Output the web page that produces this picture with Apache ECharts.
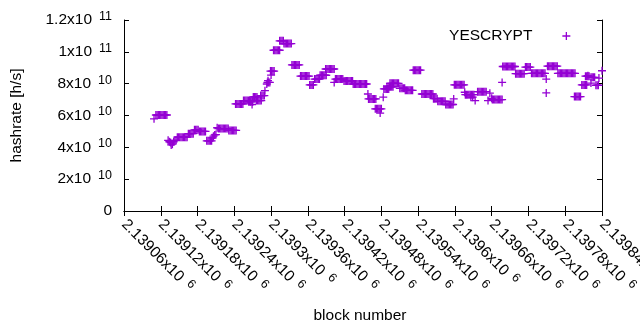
<!DOCTYPE html>
<html>
<head>
<meta charset="utf-8">
<script src="https://cdn.jsdelivr.net/npm/echarts@6/dist/echarts.min.js"></script>
<style>
html,body{margin:0;padding:0;background:#fff;}
#chart{width:640px;height:330px;}
</style>
</head>
<body>
<div id="chart"></div>
<script>
// ---- data (block number, hashrate in units of 1e10 h/s) ----
const seriesName = 'YESCRYPT';
const hashrateUnit = 1e10;
const samples = [
[2139109,5.79],
[2139112,6.03],[2139114,6.03],[2139116,6.03],[2139118,6.03],[2139120,6.03],[2139122,6.03],[2139124,6.03],[2139126,6.03],[2139128,6.03],[2139130,6.03],
[2139132,4.44],[2139134,4.35],[2139136,4.3],[2139137,4.15],[2139139,4.2],[2139141,4.35],
[2139143,4.44],[2139145,4.44],
[2139147,4.64],[2139149,4.64],[2139151,4.64],[2139153,4.64],[2139155,4.64],[2139157,4.64],[2139159,4.64],[2139161,4.64],[2139163,4.64],
[2139165,4.86],[2139167,4.86],[2139169,4.86],[2139171,4.86],[2139173,4.86],
[2139175,5.1],[2139177,5.1],[2139179,5.1],[2139181,5.1],
[2139183,5.0],[2139185,5.0],[2139187,5.0],[2139189,5.0],[2139191,5.0],[2139193,5.0],
[2139195,4.41],[2139197,4.41],[2139199,4.41],[2139201,4.41],[2139203,4.41],
[2139204,4.6],[2139206,4.7],[2139208,4.78],[2139210,4.8],
[2139212,5.23],[2139214,5.18],[2139216,5.18],[2139218,5.18],[2139220,5.18],[2139222,5.18],[2139224,5.18],[2139226,5.18],[2139228,5.18],[2139230,5.18],
[2139231,5.06],[2139233,5.06],[2139235,5.06],[2139237,5.06],[2139239,5.06],[2139241,5.06],[2139243,5.06],
[2139242,6.73],[2139244,6.73],[2139246,6.73],[2139248,6.73],[2139250,6.73],[2139252,6.73],[2139254,6.73],
[2139255,6.94],[2139257,6.94],[2139259,6.94],[2139261,6.94],[2139263,6.94],[2139265,6.94],[2139267,6.94],[2139269,6.94],
[2139269,6.69],[2139264,6.85],[2139267,6.85],[2139270,6.85],
[2139271,7.17],[2139273,7.17],[2139275,7.17],[2139277,7.17],
[2139276,6.94],[2139278,6.94],[2139280,6.94],[2139282,6.94],[2139284,6.94],
[2139283,7.25],[2139285,7.25],[2139287,7.25],[2139289,7.25],
[2139290,7.56],[2139293,7.98],[2139295,8.19],[2139294,8.08],[2139296,8.08],[2139298,8.08],
[2139300,8.54],[2139299,8.79],[2139301,8.79],[2139303,8.79],[2139305,8.79],
[2139304,10.1],[2139306,10.1],[2139308,10.1],[2139310,10.1],[2139312,10.1],[2139314,10.1],
[2139314,10.69],[2139316,10.69],[2139318,10.69],[2139320,10.69],
[2139321,10.52],[2139323,10.52],[2139325,10.52],[2139327,10.52],[2139329,10.52],[2139331,10.52],[2139333,10.52],
[2139334,9.18],[2139336,9.18],[2139338,9.18],[2139340,9.18],[2139342,9.18],[2139344,9.18],[2139346,9.18],
[2139348,8.48],[2139350,8.48],[2139352,8.48],[2139354,8.48],[2139356,8.48],[2139358,8.48],[2139360,8.48],[2139362,8.48],
[2139363,7.92],[2139365,7.92],[2139367,7.92],[2139369,7.92],
[2139371,8.29],[2139373,8.29],[2139375,8.29],[2139377,8.29],[2139379,8.29],
[2139380,8.53],[2139382,8.53],[2139384,8.53],[2139386,8.53],[2139388,8.53],[2139390,8.53],
[2139389,8.92],[2139391,8.92],[2139393,8.92],[2139395,8.92],[2139397,8.92],[2139399,8.92],[2139401,8.92],[2139403,8.92],
[2139403,8.08],
[2139405,8.29],[2139407,8.29],[2139409,8.29],[2139411,8.29],[2139413,8.29],[2139415,8.29],[2139417,8.29],
[2139419,8.17],[2139421,8.17],[2139423,8.17],[2139425,8.17],[2139427,8.17],[2139429,8.17],[2139431,8.17],[2139433,8.17],
[2139434,7.98],[2139436,7.98],[2139438,7.98],[2139440,7.98],[2139442,7.98],[2139444,7.98],[2139446,7.98],[2139448,7.98],[2139450,7.98],[2139452,7.98],[2139454,7.98],[2139456,7.98],
[2139458,7.35],
[2139459,7.04],[2139461,7.04],[2139463,7.04],[2139465,7.04],[2139467,7.04],[2139469,7.04],[2139471,7.04],
[2139470,6.42],[2139472,6.42],[2139474,6.42],[2139476,6.42],[2139478,6.42],[2139480,6.42],[2139478,6.15],
[2139483,7.15],
[2139484,7.67],[2139486,7.67],[2139488,7.67],[2139490,7.67],[2139492,7.67],
[2139489,7.8],[2139491,7.8],[2139493,7.8],[2139495,7.8],[2139497,7.8],[2139499,7.8],
[2139494,8.02],[2139496,8.02],[2139498,8.02],[2139500,8.02],[2139502,8.02],[2139504,8.02],[2139506,8.02],[2139508,8.02],
[2139510,7.71],[2139512,7.71],[2139514,7.71],[2139516,7.71],[2139518,7.71],
[2139519,7.58],[2139521,7.58],[2139523,7.58],[2139525,7.58],[2139527,7.58],[2139529,7.58],[2139531,7.58],
[2139532,8.85],[2139534,8.85],[2139536,8.85],[2139538,8.85],[2139540,8.85],[2139542,8.85],[2139544,8.85],
[2139546,7.35],[2139548,7.35],[2139550,7.35],[2139552,7.35],[2139554,7.35],[2139556,7.35],[2139558,7.35],[2139560,7.35],[2139562,7.35],[2139564,7.35],
[2139565,7.06],[2139567,7.06],[2139569,7.06],[2139571,7.06],
[2139572,6.89],[2139574,6.89],[2139576,6.89],[2139578,6.89],[2139580,6.89],[2139582,6.89],[2139584,6.89],
[2139585,6.69],[2139587,6.69],[2139589,6.69],[2139591,6.69],[2139593,6.69],[2139595,6.69],[2139597,6.69],
[2139598,7.04],
[2139599,7.93],[2139601,7.93],[2139603,7.93],[2139605,7.93],[2139607,7.93],[2139609,7.93],[2139611,7.93],[2139613,7.93],[2139615,7.93],
[2139616,7.46],
[2139617,7.31],[2139619,7.31],[2139621,7.31],[2139623,7.31],[2139625,7.31],[2139627,7.31],[2139629,7.31],[2139631,7.31],
[2139626,7.15],[2139629,7.15],
[2139633,6.94],
[2139637,7.5],[2139639,7.5],[2139641,7.5],[2139643,7.5],[2139645,7.5],[2139647,7.5],[2139649,7.5],[2139651,7.5],
[2139654,6.94],[2139657,7.4],[2139660,7.08],
[2139661,7.0],[2139663,7.0],[2139665,7.0],[2139667,7.0],[2139669,7.0],[2139671,7.0],[2139673,7.0],[2139675,7.0],[2139677,7.0],
[2139677,8.08],
[2139678,9.08],[2139680,9.08],[2139682,9.08],[2139684,9.08],[2139686,9.08],[2139688,9.08],[2139690,9.08],[2139692,9.08],[2139694,9.08],[2139696,9.08],[2139698,9.08],
[2139699,8.63],[2139701,8.63],[2139703,8.63],[2139705,8.63],[2139707,8.63],[2139709,8.63],[2139711,8.63],[2139713,8.63],
[2139715,9.04],[2139717,9.04],[2139719,9.04],[2139721,9.04],[2139723,9.04],
[2139725,8.65],[2139727,8.65],[2139729,8.65],[2139731,8.65],[2139733,8.65],[2139735,8.65],[2139737,8.65],[2139739,8.65],[2139741,8.65],[2139743,8.65],[2139745,8.65],[2139747,8.65],
[2139749,8.29],[2139749,7.42],
[2139751,9.1],[2139753,9.1],[2139755,9.1],[2139757,9.1],[2139759,9.1],[2139761,9.1],[2139763,9.1],[2139765,9.1],[2139767,9.1],
[2139768,8.65],[2139770,8.65],[2139772,8.65],[2139774,8.65],[2139776,8.65],[2139778,8.65],[2139780,8.65],[2139782,8.65],[2139784,8.65],[2139786,8.65],[2139788,8.65],[2139790,8.65],[2139792,8.65],[2139794,8.65],[2139796,8.65],
[2139795,7.19],[2139797,7.19],[2139799,7.19],[2139801,7.19],[2139803,7.19],[2139805,7.19],
[2139807,7.92],[2139809,7.92],[2139811,7.92],[2139813,7.92],[2139815,7.92],
[2139813,8.47],[2139815,8.47],[2139817,8.47],[2139819,8.47],[2139817,8.5],
[2139822,8.4],[2139824,8.4],[2139826,8.4],[2139828,8.4],[2139822,8.04],
[2139830,7.9],[2139832,7.9],[2139834,7.9],
[2139835,8.35],[2139840,8.81]
];

// ---- axes ----
const xMin = 2139060, xMax = 2139840, xStep = 60;
const xTickMantissa = ['2.13906','2.13912','2.13918','2.13924','2.1393','2.13936','2.13942','2.13948','2.13954','2.1396','2.13966','2.13972','2.13978','2.13984'];
const xTickExp = '6';
const yMin = 0, yMax = 1.2e11, yStep = 2e10;
const yTickMantissa = ['0','2','4','6','8','1','1.2'];
const yTickExp = ['','10','10','10','10','11','11'];
const xTitle = 'block number';
const yTitle = 'hashrate [h/s]';

const FONT = "'Liberation Sans', Arial, sans-serif";
const FS = 15.5;
const richStyles = {
  m: {fontFamily: FONT, fontSize: FS, color: '#000', lineHeight: 20, verticalAlign: 'middle'},
  s: {fontFamily: FONT, fontSize: 12.5, color: '#000', lineHeight: 12, verticalAlign: 'top', padding: [0,0,0,7]}
};
const plus = 'path://M0,4L8,4M4,0L4,8';
const purple = '#9400d3';

const chart = echarts.init(document.getElementById('chart'), null, {renderer: 'canvas'});
const axisCommon = {
  axisLine: {show: true, lineStyle: {color: '#000', width: 1}},
  axisTick: {show: true, inside: true, length: 5, lineStyle: {color: '#000', width: 1}},
  splitLine: {show: false}
};
chart.setOption({
  animation: false,
  backgroundColor: '#fff',
  grid: {left: 124, right: 38, top: 20, bottom: 119, containLabel: false, outerBoundsMode: 'none'},
  legend: {
    data: [seriesName], right: 69, top: 28, padding: 0, align: 'right',
    itemWidth: 8, itemHeight: 8, icon: plus,
    itemStyle: {color: 'rgba(0,0,0,0)', borderColor: purple, borderWidth: 1.3},
    textStyle: {fontFamily: FONT, fontSize: FS, color: '#000', padding: [0, 25, 0, 0]}
  },
  xAxis: [
    Object.assign({
      type: 'value', position: 'bottom', min: xMin, max: xMax, interval: xStep,
      name: xTitle, nameLocation: 'middle', nameGap: 97,
      nameTextStyle: {fontFamily: FONT, fontSize: FS, color: '#000', padding: [0, 6, 0, 0]},
      axisLabel: {
        rotate: -45, margin: 11, showMaxLabel: true, showMinLabel: true, hideOverlap: false,
        formatter: v => {
          const i = Math.round((v - xMin) / xStep);
          return '{m|' + xTickMantissa[i] + 'x10}{s|' + xTickExp + '}';
        },
        rich: richStyles
      }
    }, axisCommon),
    Object.assign({
      type: 'value', position: 'top', min: xMin, max: xMax, interval: xStep,
      axisLabel: {show: false}
    }, axisCommon)
  ],
  yAxis: [
    Object.assign({
      type: 'value', position: 'left', min: yMin, max: yMax, interval: yStep,
      name: yTitle, nameLocation: 'middle', nameGap: 99, nameRotate: 90,
      nameTextStyle: {fontFamily: FONT, fontSize: FS, color: '#000'},
      axisLabel: {
        margin: 12,
        formatter: v => {
          const i = Math.round(v / yStep);
          if (!yTickExp[i]) return '{m|' + yTickMantissa[i] + '}';
          return '{m|' + yTickMantissa[i] + 'x10}{s|' + yTickExp[i] + '}';
        },
        rich: richStyles
      }
    }, axisCommon),
    Object.assign({
      type: 'value', position: 'right', min: yMin, max: yMax, interval: yStep,
      axisLabel: {show: false}
    }, axisCommon)
  ],
  series: [{
    name: seriesName, type: 'scatter',
    xAxisIndex: 0, yAxisIndex: 0,
    symbol: plus, symbolSize: 8,
    itemStyle: {color: 'rgba(0,0,0,0)', borderColor: purple, borderWidth: 1.3, opacity: 1},
    emphasis: {disabled: true},
    data: samples.map(p => [p[0], p[1] * hashrateUnit])
  }]
});
</script>
</body>
</html>
